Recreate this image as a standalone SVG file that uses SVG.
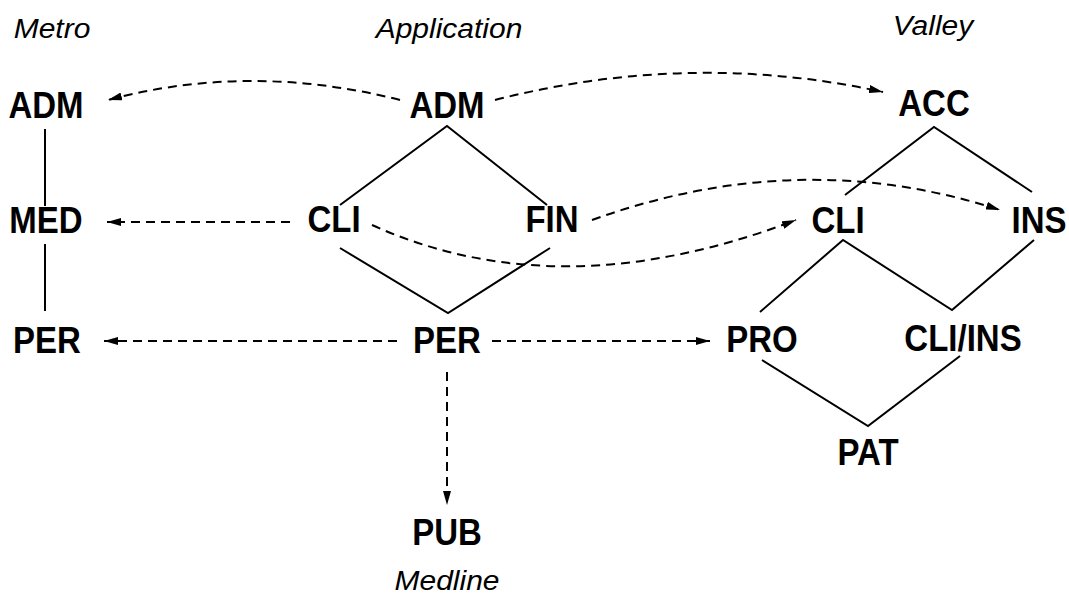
<svg xmlns="http://www.w3.org/2000/svg" width="1069" height="601" viewBox="0 0 1069 601">
<style>
.n{font-family:"Liberation Sans",Arial,sans-serif;font-weight:bold;font-size:33px;text-anchor:middle;fill:#000}
.l{font-family:"Liberation Sans",Arial,sans-serif;font-style:italic;font-size:30px;text-anchor:middle;fill:#000}
.s{stroke:#000;stroke-width:2;fill:none}
.d{stroke:#000;stroke-width:2;fill:none;stroke-dasharray:9 6}
</style>
<defs>
<marker id="ah" viewBox="0 0 14 8" refX="14" refY="4" markerWidth="14" markerHeight="8" markerUnits="userSpaceOnUse" orient="auto">
<path d="M0,0 L14,4 L0,8 Z" fill="#000"/>
</marker>
</defs>
<rect width="1069" height="601" fill="#fff"/>
<g id="labels">
<text class="l" transform="translate(52,38) scale(1,0.92)">Metro</text>
<text class="l" transform="translate(449,38) scale(1,0.92)">Application</text>
<text class="l" transform="translate(933,35) scale(1,0.92)">Valley</text>
<text class="l" transform="translate(447,590) scale(1,0.92)">Medline</text>
</g>
<g id="connectors">
<line class="s" x1="45" y1="129" x2="45" y2="206"/>
<line class="s" x1="45" y1="244" x2="45" y2="311"/>
<polyline class="s" points="340,205 447,126 547,205"/>
<polyline class="s" points="340,248 448,313 550,248"/>
<polyline class="s" points="845,195 934,127 1032,192"/>
<polyline class="s" points="760,312 843,240 952,310 1034,240"/>
<polyline class="s" points="762,360 868,426 960,356"/>
<path class="d" d="M400,100 Q250,62 108,100" marker-end="url(#ah)"/>
<path class="d" d="M495,100 Q690,50 883,92" marker-end="url(#ah)"/>
<path class="d" d="M290,222 L107,222" marker-end="url(#ah)"/>
<path class="d" d="M372,225 Q560,310 796,220" marker-end="url(#ah)"/>
<path class="d" d="M592,220 Q800,145 1000,210" marker-end="url(#ah)"/>
<path class="d" d="M397,341 L104,341" marker-end="url(#ah)"/>
<path class="d" d="M492,341 L710,341" marker-end="url(#ah)"/>
<path class="d" d="M447,372 L447,505" marker-end="url(#ah)"/>
</g>
<g id="metro-adm"><text class="n" transform="translate(46,118) scale(1,1.12)">ADM</text></g>
<g id="metro-med"><text class="n" transform="translate(46,233) scale(1,1.12)">MED</text></g>
<g id="metro-per"><text class="n" transform="translate(47,353) scale(1,1.12)">PER</text></g>
<g id="app-adm"><text class="n" transform="translate(447,118) scale(1,1.12)">ADM</text></g>
<g id="app-cli"><text class="n" transform="translate(334,232) scale(1,1.12)">CLI</text></g>
<g id="app-fin"><text class="n" transform="translate(552,232) scale(1,1.12)">FIN</text></g>
<g id="app-per"><text class="n" transform="translate(447,353) scale(1,1.12)">PER</text></g>
<g id="app-pub"><text class="n" transform="translate(447,545) scale(1,1.12)">PUB</text></g>
<g id="valley-acc"><text class="n" transform="translate(934,116) scale(1,1.12)">ACC</text></g>
<g id="valley-cli"><text class="n" transform="translate(838,233) scale(1,1.12)">CLI</text></g>
<g id="valley-ins"><text class="n" transform="translate(1039,233) scale(1,1.12)">INS</text></g>
<g id="valley-pro"><text class="n" transform="translate(762,352) scale(1,1.12)">PRO</text></g>
<g id="valley-cliins"><text class="n" transform="translate(963,351) scale(1,1.12)">CLI/INS</text></g>
<g id="valley-pat"><text class="n" transform="translate(868,465) scale(1,1.12)">PAT</text></g>
</svg>
